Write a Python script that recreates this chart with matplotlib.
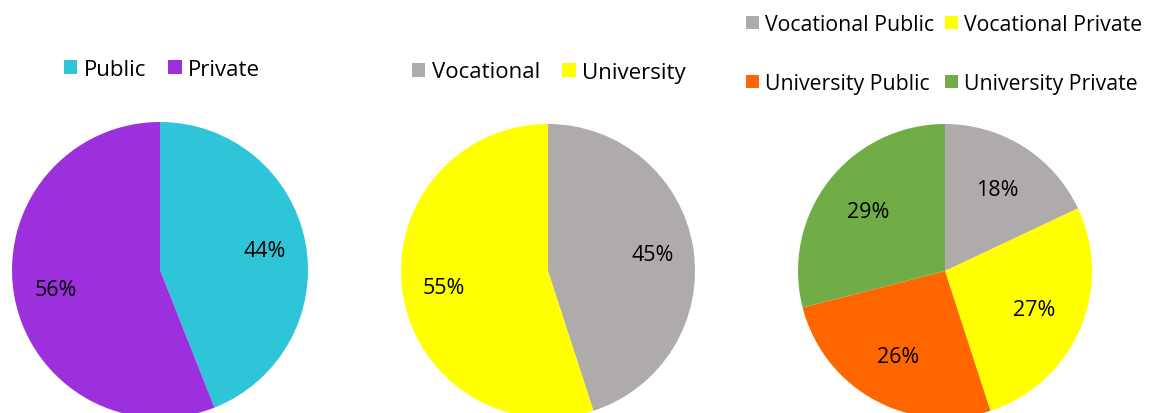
import matplotlib.pyplot as plt

plt.rcParams['font.family'] = ['Open Sans', 'DejaVu Sans']

# chart data (percent)
sector_labels = ['Public', 'Private']
sector_values = [44, 56]
type_labels = ['Vocational', 'University']
type_values = [45, 55]
combo_labels = ['Vocational Public', 'Vocational Private', 'University Public', 'University Private']
combo_values = [18, 27, 26, 29]

sector_colors = ['#2FC5D9', '#9B30DC']
type_colors = ['#AFABAB', '#FFFF00']
combo_colors = ['#AFABAB', '#FFFF00', '#FF6600', '#70AD47']

W, H = 1153, 414
fig = plt.figure(figsize=(W / 100, H / 100), dpi=100)

def pie_axes(cx, cy, r):
    # cx, cy in pixels from top-left
    return fig.add_axes([(cx - r) / W, (H - cy - r) / H, 2 * r / W, 2 * r / H])

def draw_pie(ax, values, colors, pctdist):
    wedges, _, autotexts = ax.pie(values, colors=colors, startangle=90, counterclock=False,
                                  radius=1, autopct=lambda p: f'{p:.0f}%', pctdistance=pctdist,
                                  textprops={'fontsize': 15.5, 'color': 'black'},
                                  wedgeprops={'linewidth': 0})
    ax.set_xlim(-1, 1)
    ax.set_ylim(-1, 1)
    ax.set_aspect('equal')
    ax.axis('off')
    return wedges

ax1 = pie_axes(160, 271, 148)
w1 = draw_pie(ax1, sector_values, sector_colors, 0.72)
ax2 = pie_axes(548, 272, 147)
w2 = draw_pie(ax2, type_values, type_colors, 0.72)
ax3 = pie_axes(945, 272, 147)
w3 = draw_pie(ax3, combo_values, combo_colors, 0.66)

leg_kw = dict(frameon=False, handlelength=0.6, handleheight=0.6,
              handletextpad=0.3, loc='center', bbox_transform=fig.transFigure)

fig.legend(w1, sector_labels, ncol=2, columnspacing=1.0, fontsize=16,
           bbox_to_anchor=(162 / W, 1 - 70 / H), **leg_kw)
fig.legend(w2, type_labels, ncol=2, columnspacing=1.0, fontsize=16,
           bbox_to_anchor=(549 / W, 1 - 73 / H), **leg_kw)
# matplotlib fills legend columns first, reorder so rows read left to right
order = [0, 2, 1, 3]
fig.legend([w3[i] for i in order], [combo_labels[i] for i in order], ncol=2,
           columnspacing=0.5, labelspacing=1.8, fontsize=15.3,
           bbox_to_anchor=(944 / W, 1 - 55 / H), **leg_kw)

fig.savefig('out.png', dpi=100)
